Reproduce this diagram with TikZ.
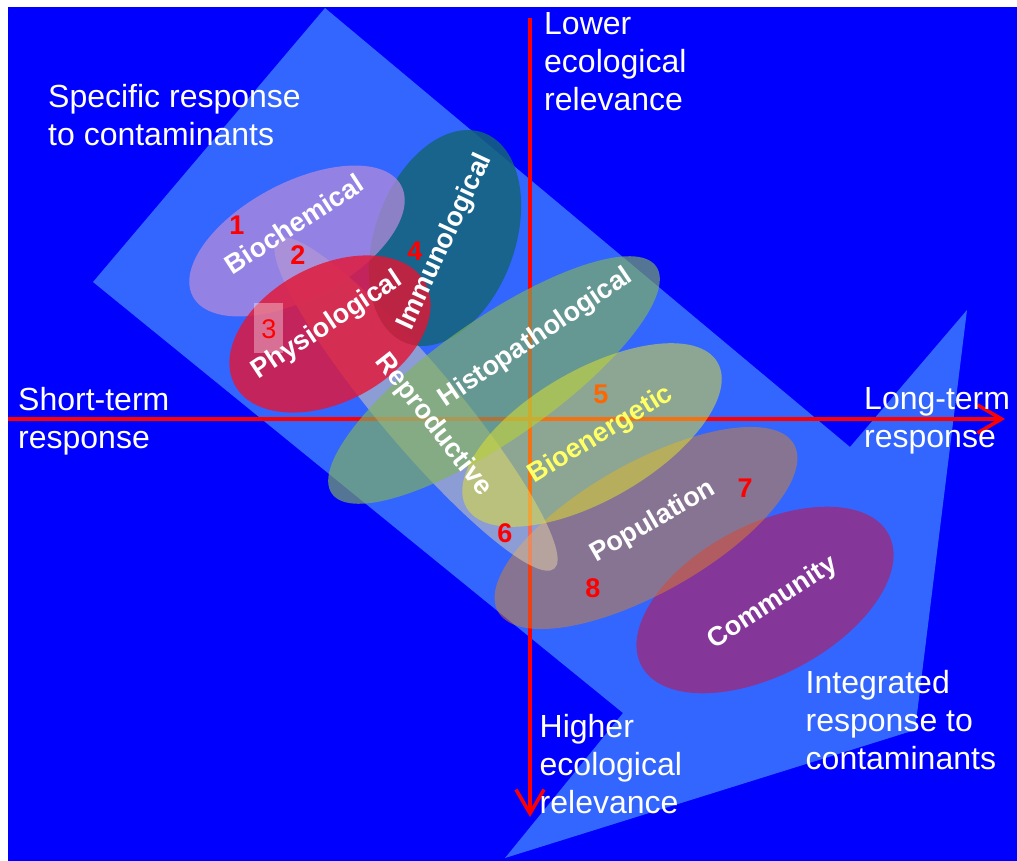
\documentclass[tikz,border=0pt]{standalone}
\usepackage{fontspec}
\setmainfont{Liberation Sans}
\usetikzlibrary{arrows.meta}

\definecolor{fond}{RGB}{0,0,255}
\definecolor{fleche}{RGB}{51,102,255}
\definecolor{biochim}{RGB}{180,140,220}
\definecolor{physio}{RGB}{230,20,50}
\definecolor{immuno}{RGB}{20,100,120}
\definecolor{histo}{RGB}{130,180,90}
\definecolor{bioen}{RGB}{230,230,40}
\definecolor{repro}{RGB}{230,210,170}
\definecolor{popul}{RGB}{220,130,40}
\definecolor{commu}{RGB}{160,40,120}
\definecolor{jaune}{RGB}{255,255,102}
\definecolor{orange}{RGB}{255,102,0}

\begin{document}
\begin{tikzpicture}[x=1pt,y=-1pt,
    axe/.style={draw=red,line width=3.5pt,-{Straight Barb[length=24pt,width=28pt]}},
    lab/.style={text=white,font=\bfseries\fontsize{27}{27}\selectfont,inner sep=0pt},
    num/.style={text=red,font=\bfseries\fontsize{27}{27}\selectfont,inner sep=0pt},
    txt/.style={text=white,font=\fontsize{32}{38}\selectfont,align=left,anchor=north west,inner sep=0pt}]

    %Fond
    \fill[white] (0,0) rectangle (1017,861);
    \useasboundingbox (0,0) rectangle (1017,861);
    \fill[fond] (8,7) rectangle (1017,861);

    %Grande fleche
    \fill[fleche] (325,8) -- (850,447) -- (967,310) -- (915,730) -- (505,858) -- (623,713) -- (93,282) -- cycle;

    %Axes
    \coordinate (ouest) at (8,419);
    \coordinate (est) at (1005,419);
    \coordinate (haut) at (530,18);
    \coordinate (bas) at (530,817);
    \draw[axe] (ouest) -- (est);
    \draw[axe] (haut) -- (bas);

    %Ellipses
    \fill[commu,fill opacity=.75,rotate around={28:(765,600)}] (765,600) ellipse [x radius=140,y radius=75];
    \fill[popul,fill opacity=.5,rotate around={29.5:(646,528)}] (646,528) ellipse [x radius=170,y radius=65];
    \fill[repro,fill opacity=.5,rotate around={-50:(416,404)}] (416,404) ellipse [x radius=215,y radius=40];
    \fill[immuno,fill opacity=.85,rotate around={70:(445,238)}] (445,238) ellipse [x radius=112,y radius=70];
    \fill[histo,fill opacity=.65,rotate around={35:(494,380)}] (494,380) ellipse [x radius=198,y radius=60];
    \fill[bioen,fill opacity=.5,rotate around={30:(592,435)}] (592,435) ellipse [x radius=145,y radius=65];
    \fill[biochim,fill opacity=.75,rotate around={28:(297,241)}] (297,241) ellipse [x radius=118,y radius=58];
    \fill[physio,fill opacity=.8,rotate around={28:(330,334)}] (330,334) ellipse [x radius=108,y radius=68];
    \fill[white,fill opacity=.35] (254,303) rectangle (283,353);

    %Noms
    \node[lab,rotate=33] (biochemical) at (294,224) {Biochemical};
    \node[lab,rotate=33.5] (physiological) at (327,326) {Physiological};
    \node[lab,rotate=65] (immunological) at (445,242) {Immunological};
    \node[lab,rotate=34] (histopathological) at (536,338) {Histopathological};
    \node[lab,rotate=-52] (reproductive) at (433,425) {Reproductive};
    \node[lab,rotate=31.5,text=jaune] (bioenergetic) at (601,435) {Bioenergetic};
    \node[lab,rotate=30] (population) at (653,522) {Population};
    \node[lab,rotate=33] (community) at (773,603) {Community};

    %Numeros
    \node[num] (n1) at (237,225) {1};
    \node[num] (n2) at (298,255) {2};
    \node[num,font=\fontsize{27}{27}\selectfont] (n3) at (269,329) {3};
    \node[num] (n4) at (415,251) {4};
    \node[num,text=orange] (n5) at (601,394) {5};
    \node[num] (n6) at (505,533) {6};
    \node[num] (n7) at (745,488) {7};
    \node[num] (n8) at (593,588) {8};

    %Textes
    \node[txt] (specifique) at (48,84) {Specific response\\to contaminants};
    \node[txt] (court) at (18,387) {Short-term\\response};
    \node[txt] (faible) at (544,12.5) {Lower\\ecological\\relevance};
    \node[txt] (long) at (864,387.5) {Long-term\\response};
    \node[txt] (forte) at (539.5,714) {Higher\\ecological\\relevance};
    \node[txt] (integre) at (805.5,670) {Integrated\\response to\\contaminants};

\end{tikzpicture}
\end{document}
